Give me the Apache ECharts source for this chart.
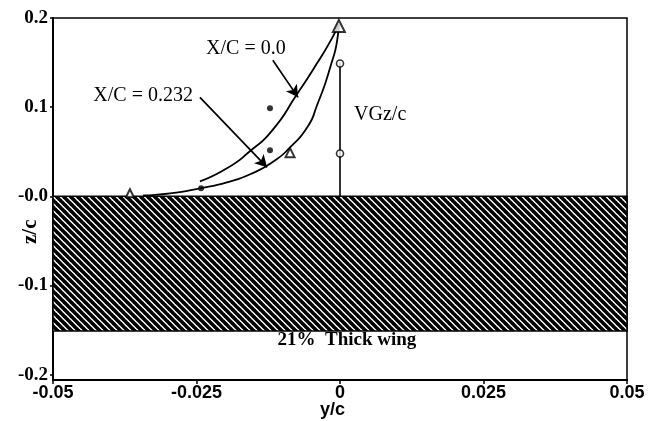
<!DOCTYPE html>
<html><head><meta charset="utf-8">
<script src="https://cdn.jsdelivr.net/npm/echarts@6/dist/echarts.min.js"></script>
<style>html,body{margin:0;padding:0;background:#fff}#c{width:663px;height:421px}</style>
</head><body><div id="c"></div>
<script>
// ---- data ----
const xTicks = [-0.05, -0.025, 0, 0.025, 0.05];
const xTickLabels = ['-0.05', '-0.025', '0', '0.025', '0.05'];
const yTicks = [-0.2, -0.1, 0, 0.1, 0.2];
const yTickLabels = ['-0.2', '-0.1', '-0.0', '0.1', '0.2'];

// vortex path curves (y/c, z/c)
const curveXC00 = [[-0.0244,0.0168],[-0.0197,0.0314],[-0.0157,0.0505],[-0.0118,0.0740],[-0.0075,0.1144],[-0.0040,0.1492],[-0.0017,0.1738],[-0.0002,0.1929]];
const curveXC0232 = [[-0.0343,0.0011],[-0.0296,0.0034],[-0.0244,0.0090],[-0.0197,0.0157],[-0.0153,0.0258],[-0.0113,0.0404],[-0.0087,0.0550],[-0.0057,0.0774],[-0.0040,0.1021],[-0.0017,0.1447],[-0.0003,0.1839],[-0.0002,0.1929]];

// measured points
const triangles = [[-0.0002,0.1910],[-0.0366,0.0034],[-0.0087,0.0490]];
const triangleSizes = [12, 8, 9];
const dots = [[-0.0122,0.0987],[-0.0122,0.0516],[-0.0242,0.0090]];

// vortex generator
const vgLine = [[0,0],[0,0.15]];
const vgCircles = [[0,0.149],[0,0.048]];

// wing
const wingTop = 0;
const wingBottom = -0.151;

// annotations
const arrowXC00 = [[-0.0117,0.1525],[-0.0073,0.1110]];
const arrowXC0232 = [[-0.0244,0.1110],[-0.0127,0.0325]];
const notes = [
  {name:'X/C = 0.0', value:[-0.0164,0.166]},
  {name:'X/C = 0.232', value:[-0.0343,0.113]},
  {name:'VGz/c', value:[0.0070,0.091]}
];
const wingNote = {name:'21%  Thick wing', value:[0.0012,-0.1615]};

function tickFmt(ticks, labels){
  return v => { const i = ticks.findIndex(t => Math.abs(t - v) < 1e-9); return i >= 0 ? labels[i] : ''; };
}
function hatch(){
  const s = 7, c = document.createElement('canvas');
  c.width = s; c.height = s;
  const g = c.getContext('2d');
  g.fillStyle = '#fff'; g.fillRect(0,0,s,s);
  g.strokeStyle = '#000'; g.lineWidth = 3.6;
  for (let k=-1;k<=1;k++){ g.beginPath(); g.moveTo(k*s-1,-1); g.lineTo(k*s+s+1,s+1); g.stroke(); }
  return c;
}

const serif = 'Liberation Serif';
const sans = 'Liberation Sans';
const txt = {color:'#000',textBorderWidth:0,textShadowBlur:0,opacity:1};
const chart = echarts.init(document.getElementById('c'), null, {renderer:'canvas'});
chart.setOption({
  animation:false,
  backgroundColor:'#fff',
  grid:{left:53,right:36,top:18,bottom:41,show:true,borderColor:'#000',borderWidth:1.5,outerBoundsMode:'none'},
  xAxis:{type:'value',min:-0.05,max:0.05,interval:0.025,
    axisLine:{onZero:false,lineStyle:{color:'#000',width:2}},
    axisTick:{show:true,length:4,lineStyle:{color:'#000',width:1.5}},
    splitLine:{show:false},
    axisLabel:{color:'#000',fontFamily:sans,fontWeight:'bold',fontSize:18,margin:4,formatter:tickFmt(xTicks,xTickLabels)}
  },
  yAxis:{type:'value',min:-0.206,max:0.2,
    axisLine:{onZero:false,lineStyle:{color:'#000',width:2}},
    axisTick:{show:true,length:3,customValues:yTicks,lineStyle:{color:'#000',width:1.5}},
    splitLine:{show:false},
    axisLabel:{color:'#000',fontFamily:serif,fontWeight:'bold',fontSize:19,margin:5,customValues:yTicks,formatter:tickFmt(yTicks,yTickLabels)}
  },
  graphic:[
    {type:'text',left:320,top:401,style:{text:'y/c',font:'bold 18px "Liberation Sans"',fill:'#000'}},
    {type:'text',x:20,y:244,rotation:Math.PI/2,style:{text:'z/c',font:'bold 21px "Liberation Serif"',fill:'#000'}}
  ],
  series:[
    {type:'line',data:[],silent:true,
      markArea:{silent:true,label:{show:false},
        itemStyle:{color:{image:hatch(),repeat:'repeat'},borderColor:'#000',borderWidth:1.5},
        data:[[{coord:[xTicks[0],wingTop]},{coord:[xTicks[xTicks.length-1],wingBottom]}]]}
    },
    {type:'line',data:curveXC00,smooth:0.6,symbol:'none',lineStyle:{color:'#000',width:1.8},z:3},
    {type:'line',data:curveXC0232,smooth:0.6,symbol:'none',lineStyle:{color:'#000',width:1.8},z:3},
    {type:'line',data:vgLine,symbol:'none',lineStyle:{color:'#000',width:1.6},z:3},
    {type:'scatter',data:vgCircles,symbol:'circle',symbolSize:7,itemStyle:{color:'#fff',borderColor:'#000',borderWidth:1.6},z:5},
    {type:'scatter',data:triangles.map((p,i)=>({value:p,symbolSize:triangleSizes[i]})),symbol:'triangle',itemStyle:{color:'#fff',borderColor:'#000',borderWidth:2},z:5},
    {type:'scatter',data:dots,symbol:'circle',symbolSize:6,itemStyle:{color:'#000'},z:5},
    {type:'line',data:[],silent:true,
      markLine:{silent:true,symbol:['none','arrow'],symbolSize:[10,12],label:{show:false},
        lineStyle:{color:'#000',width:1.7,type:'solid'},
        data:[[{coord:arrowXC00[0]},{coord:arrowXC00[1]}],[{coord:arrowXC0232[0]},{coord:arrowXC0232[1]}]]}
    },
    {type:'scatter',data:notes,symbolSize:1,itemStyle:{color:'rgba(0,0,0,0)'},z:6,
      label:Object.assign({show:true,position:'inside',formatter:'{b}',fontFamily:serif,fontSize:20},txt)},
    {type:'scatter',data:[wingNote],symbolSize:1,itemStyle:{color:'rgba(0,0,0,0)'},z:6,
      label:Object.assign({show:true,position:'inside',formatter:'{b}',fontFamily:serif,fontWeight:'bold',fontSize:19},txt)}
  ]
});
</script></body></html>
